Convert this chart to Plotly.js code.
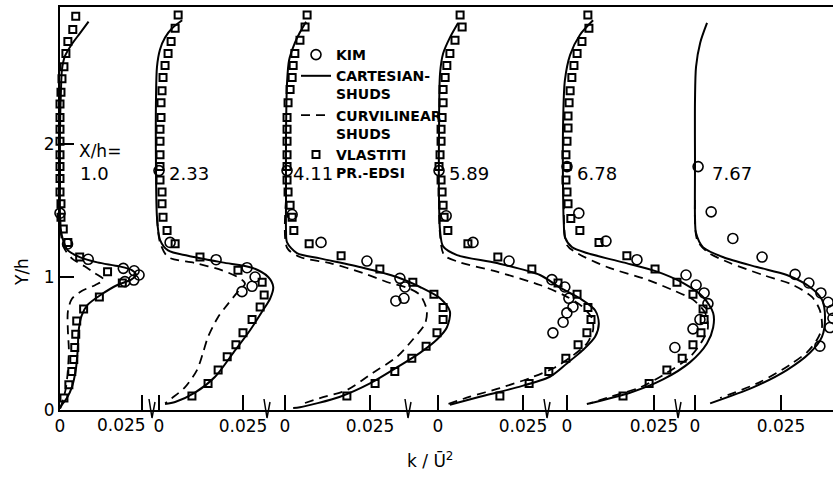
<!DOCTYPE html>
<html><head><meta charset="utf-8">
<script src="https://cdn.plot.ly/plotly-3.0.1.min.js"></script>
<style>html,body{margin:0;padding:0;background:#fff}</style>
</head><body><div id="chart" style="width:833px;height:478px"></div>
<script>
// ---- labels ----
const stations = ['1.0','2.33','4.11','5.89','6.78','7.67'];
const xTickVals = [0, 0.025];
const xTickText = ['0', '0.025'];
const yTickVals = [0, 1, 2];
const yTickText = ['0', '1', '2'];
const seriesNames = ['KIM', 'CARTESIAN-<br>SHUDS', 'CURVILINEAR<br>SHUDS', 'VLASTITI<br>PR.-EDSI'];

// ---- X/h = 1.0 ----
const p1_sq_y = [2.96,2.86,2.77,2.68,2.58,2.49,2.39,2.30,2.20,2.11,2.02,1.92,1.83,1.74,1.64,1.55,1.45,1.36,1.26,1.15,1.04,0.955,0.85,0.76,0.67,0.57,0.47,0.38,0.29,0.19,0.09];
const p1_sq_k = [0.0048,0.0039,0.0024,0.0018,0.0012,0.0006,0.0003,0,0,0,0,0,0,0,0,0.0003,0.0003,0.001,0.0024,0.006,0.0145,0.019,0.012,0.0072,0.0051,0.0048,0.0045,0.0042,0.0036,0.0027,0.0012];
const p1_kim_y = [1.48,1.248,1.133,1.065,1.047,1.015,0.977,0.965];
const p1_kim_k = [0,0.0023,0.0086,0.0193,0.0226,0.0241,0.0225,0.0198];
const p1_cart_y = [2.92,2.83,2.75,2.66,2.56,2.41,2.11,1.73,1.47,1.35,1.28,1.20,1.15,1.11,1.08,1.05,1.015,0.98,0.94,0.87,0.79,0.71,0.60,0.45,0.30,0.17,0.09,0.04,0.01];
const p1_cart_k = [0.0087,0.0060,0.0036,0.0015,0.0006,0.0003,0,0,0,0.0003,0.0009,0.0024,0.0060,0.0114,0.0181,0.0220,0.0232,0.0217,0.0175,0.0127,0.0084,0.0066,0.0057,0.0054,0.0048,0.0036,0.0021,0.0006,0];
const p1_curv_y = [1.47,1.32,1.22,1.14,1.08,1.03,0.98,0.94,0.895,0.835,0.74,0.60,0.45,0.30,0.165,0.05,0.015];
const p1_curv_k = [0,0.0003,0.0012,0.0036,0.0075,0.0105,0.0133,0.0108,0.0066,0.0036,0.0024,0.0024,0.0027,0.0024,0.0018,0.0006,0];

// ---- X/h = 2.33 ----
const p2_sq_y = [2.97,2.87,2.77,2.68,2.59,2.50,2.40,2.31,2.20,2.11,2.02,1.92,1.83,1.73,1.64,1.55,1.45,1.35,1.25,1.15,1.05,0.96,0.865,0.775,0.68,0.58,0.49,0.40,0.30,0.20,0.105];
const p2_sq_k = [0.0057,0.0048,0.0036,0.0027,0.0018,0.0012,0.0009,0.0006,0.0006,0.0003,0.0003,0.0003,0.0003,0.0003,0.0009,0.0009,0.0012,0.0024,0.0048,0.0122,0.0235,0.0307,0.0313,0.0301,0.0277,0.0250,0.0229,0.0203,0.0176,0.0146,0.0098];
const p2_kim_y = [1.80,1.26,1.13,1.07,1.00,0.93,0.89];
const p2_kim_k = [0,0.0033,0.0170,0.0262,0.0286,0.0277,0.0247];
const p2_cart_y = [2.93,2.87,2.80,2.71,2.58,2.33,1.83,1.45,1.28,1.20,1.16,1.11,1.07,1.00,0.925,0.84,0.74,0.60,0.43,0.25,0.13,0.06,0.045];
const p2_cart_k = [0.0069,0.0039,0.0018,0.0003,-0.0006,-0.0009,-0.0009,-0.0006,0.0003,0.0027,0.0086,0.0188,0.0277,0.0325,0.034,0.0331,0.0307,0.0271,0.0221,0.0167,0.0107,0.0048,0.0018];
const p2_curv_y = [1.45,1.26,1.15,1.105,1.05,0.99,0.95,0.89,0.80,0.70,0.55,0.43,0.30,0.17,0.09,0.05];
const p2_curv_k = [-0.0006,0.0003,0.0027,0.0107,0.0188,0.0241,0.0256,0.0235,0.0206,0.0176,0.0146,0.0131,0.0113,0.0077,0.0039,0.0018];

// ---- X/h = 4.11 ----
const p3_sq_y = [2.97,2.88,2.78,2.68,2.59,2.50,2.41,2.31,2.20,2.11,2.02,1.92,1.83,1.73,1.64,1.54,1.45,1.35,1.25,1.16,1.06,0.96,0.87,0.77,0.68,0.58,0.48,0.39,0.29,0.20,0.105];
const p3_sq_k = [0.0065,0.0059,0.0044,0.0029,0.0024,0.0021,0.0015,0.0009,0.0006,0.0006,0.0006,0.0006,0.0006,0.0006,0.0009,0.0015,0.0021,0.0026,0.0071,0.0165,0.0279,0.0376,0.0438,0.0465,0.0465,0.0447,0.0415,0.0373,0.0323,0.0265,0.0182];
const p3_kim_y = [1.80,1.47,1.26,1.12,0.99,0.925,0.84,0.82];
const p3_kim_k = [0.0006,0.0021,0.0106,0.0241,0.0338,0.0353,0.035,0.0326];
const p3_cart_y = [2.92,2.84,2.76,2.63,2.46,2.08,1.58,1.35,1.26,1.18,1.14,1.07,1.00,0.925,0.84,0.74,0.62,0.53,0.43,0.32,0.20,0.10,0.02,0.015];
const p3_cart_k = [0.0062,0.0044,0.0029,0.0012,0.0006,0.0003,0.0003,0.0003,0.0006,0.0035,0.0103,0.0229,0.0329,0.0397,0.0456,0.0485,0.0476,0.0447,0.0397,0.0329,0.025,0.0162,0.0044,0.0024];
const p3_curv_y = [1.58,1.22,1.15,1.105,1.03,0.955,0.92,0.865,0.75,0.65,0.53,0.40,0.28,0.15,0.09,0.04];
const p3_curv_k = [0.0003,0.0006,0.0044,0.0132,0.0229,0.0309,0.0359,0.0397,0.0417,0.0412,0.0376,0.0329,0.0259,0.0182,0.0103,0.0044];

// ---- X/h = 5.89 ----
const p4_sq_y = [2.97,2.88,2.78,2.68,2.59,2.50,2.41,2.31,2.20,2.11,2.02,1.92,1.83,1.73,1.64,1.54,1.45,1.35,1.25,1.15,1.06,0.955,0.87,0.77,0.68,0.58,0.49,0.39,0.29,0.20,0.105];
const p4_sq_k = [0.0065,0.0071,0.0050,0.0035,0.0026,0.0021,0.0015,0.0015,0.0012,0.0009,0.0009,0.0006,0.0003,0.0009,0.0012,0.0015,0.0018,0.0029,0.0088,0.0176,0.0276,0.0353,0.0409,0.0441,0.0450,0.0438,0.0412,0.0376,0.0326,0.0268,0.0182];
const p4_kim_y = [1.80,1.46,1.26,1.12,0.98,0.925,0.84,0.775,0.73,0.66,0.58];
const p4_kim_k = [0.0003,0.0024,0.0103,0.0209,0.0335,0.0373,0.0385,0.0397,0.0379,0.0368,0.0338];
const p4_cart_y = [2.91,2.80,2.68,2.53,2.08,1.58,1.35,1.23,1.165,1.105,1.015,0.92,0.84,0.75,0.65,0.55,0.45,0.35,0.25,0.17,0.10,0.04];
const p4_cart_k = [0.0059,0.0035,0.0015,0.0006,0.0003,0.0003,0.0006,0.0015,0.0056,0.0173,0.030,0.0359,0.0417,0.0462,0.0473,0.0462,0.0426,0.0379,0.0329,0.0232,0.0123,0.0035];
const p4_curv_y = [1.58,1.32,1.165,1.11,1.04,0.94,0.86,0.78,0.69,0.60,0.50,0.41,0.32,0.24,0.165,0.10,0.045];
const p4_curv_k = [0.0003,0.0006,0.0018,0.0065,0.0173,0.030,0.0373,0.0423,0.0453,0.0456,0.0438,0.0397,0.0344,0.0270,0.0182,0.0094,0.0029];

// ---- X/h = 6.78 ----
const p5_sq_y = [2.97,2.87,2.77,2.68,2.59,2.50,2.40,2.31,2.21,2.12,2.02,1.92,1.83,1.73,1.64,1.55,1.44,1.35,1.26,1.16,1.06,0.96,0.87,0.76,0.68,0.58,0.49,0.39,0.30,0.20,0.105];
const p5_sq_k = [0.0060,0.0063,0.0043,0.0029,0.0020,0.0014,0.0009,0.0006,0.0003,0.0003,0,-0.0003,0,-0.0003,0,0.0003,0.0011,0.0037,0.0092,0.0172,0.0253,0.0316,0.0362,0.0391,0.0394,0.0385,0.0362,0.0331,0.0287,0.0236,0.0161];
const p5_kim_y = [1.83,1.48,1.27,1.13,1.015,0.94,0.88,0.80,0.68,0.61,0.47];
const p5_kim_k = [0,0.0034,0.0112,0.0201,0.0342,0.0371,0.0394,0.0405,0.0382,0.0362,0.031];
const p5_cart_y = [2.93,2.82,2.67,2.48,2.18,1.58,1.39,1.30,1.225,1.18,1.11,1.04,0.955,0.85,0.73,0.62,0.50,0.36,0.23,0.13,0.045];
const p5_cart_k = [0.0075,0.0037,0.0009,-0.0006,-0.0011,-0.0011,-0.0009,-0.0006,0.0014,0.0057,0.0161,0.0259,0.0333,0.0391,0.0420,0.0420,0.0402,0.0354,0.0276,0.0181,0.0057];
const p5_curv_y = [1.58,1.24,1.18,1.075,0.98,0.90,0.83,0.73,0.62,0.53,0.40,0.28,0.17,0.10,0.05];
const p5_curv_k = [-0.0009,0,0.0029,0.0115,0.0230,0.0305,0.0362,0.0397,0.0405,0.0391,0.0354,0.0287,0.021,0.0124,0.0066];

// ---- X/h = 7.67 ----
const p6_sq_y = [];
const p6_sq_k = [];
const p6_kim_y = [1.83,1.49,1.29,1.15,1.02,0.955,0.88,0.81,0.75,0.69,0.62,0.48];
const p6_kim_k = [0.0009,0.0047,0.011,0.0195,0.0291,0.0331,0.0366,0.0387,0.0398,0.0401,0.0392,0.0363];
const p6_cart_y = [2.91,2.76,2.58,2.33,1.83,1.45,1.33,1.225,1.15,1.075,1.015,0.925,0.83,0.70,0.55,0.43,0.30,0.17,0.05];
const p6_cart_k = [0.0035,0.0015,0.0003,0,0,0,0.0003,0.0023,0.0081,0.018,0.0267,0.0334,0.0369,0.0378,0.0369,0.0334,0.0267,0.0169,0.0044];
const p6_curv_y = [1.58,1.28,1.19,1.105,1.015,0.94,0.85,0.75,0.62,0.53,0.44,0.34,0.21,0.09];
const p6_curv_k = [0,0.0006,0.0035,0.0102,0.0198,0.0285,0.034,0.0363,0.0369,0.0355,0.0328,0.0276,0.0189,0.0073];

// ---- assemble ----
const panels = [
  {sq:[p1_sq_k,p1_sq_y], kim:[p1_kim_k,p1_kim_y], cart:[p1_cart_k,p1_cart_y], curv:[p1_curv_k,p1_curv_y]},
  {sq:[p2_sq_k,p2_sq_y], kim:[p2_kim_k,p2_kim_y], cart:[p2_cart_k,p2_cart_y], curv:[p2_curv_k,p2_curv_y]},
  {sq:[p3_sq_k,p3_sq_y], kim:[p3_kim_k,p3_kim_y], cart:[p3_cart_k,p3_cart_y], curv:[p3_curv_k,p3_curv_y]},
  {sq:[p4_sq_k,p4_sq_y], kim:[p4_kim_k,p4_kim_y], cart:[p4_cart_k,p4_cart_y], curv:[p4_curv_k,p4_curv_y]},
  {sq:[p5_sq_k,p5_sq_y], kim:[p5_kim_k,p5_kim_y], cart:[p5_cart_k,p5_cart_y], curv:[p5_curv_k,p5_curv_y]},
  {sq:[p6_sq_k,p6_sq_y], kim:[p6_kim_k,p6_kim_y], cart:[p6_cart_k,p6_cart_y], curv:[p6_curv_k,p6_curv_y]}
];

// layout geometry (pixels): plot area x 60..833, y 7..410
const W = 833, H = 478, L = 60, T = 7, B = 410;
const PW = W - L, PH = B - T;
const breaksPx = [60, 152, 267, 408, 547, 678, 833];
const zeroPx = [60, 159, 285, 438, 567, 695];
const tickPx = [142, 243, 370, 523, 654, 781];
const labelK = [0.0055, 0.0024, 0.0018, 0.0026, 0.0023, 0.0044];
const yTop = (B - T) / 133;
const fx = px => (px - L) / PW;
const fy = py => (B - py) / PH;

const FONT = 'DejaVu Sans, Liberation Sans, sans-serif';
const traces = [];
const layout = {
  width: W, height: H,
  margin: {l: L, r: 0, t: T, b: H - B, pad: 0},
  paper_bgcolor: '#fff', plot_bgcolor: 'rgba(0,0,0,0)',
  font: {family: FONT, color: '#000', size: 17},
  showlegend: true,
  legend: {x: fx(296), y: fy(39), xanchor: 'left', yanchor: 'top', bgcolor: 'rgba(0,0,0,0)',
           font: {family: FONT, size: 14, color: '#000', weight: 'bold'}, itemwidth: 30, valign: 'top',
           tracegroupgap: 0, traceorder: 'normal'},
  yaxis: {range: [0, yTop], domain: [0, 1], anchor: 'x', showline: true, linewidth: 2, linecolor: '#000',
          ticks: 'inside', ticklen: 14, tickwidth: 1.5, tickcolor: '#000', tickvals: yTickVals, ticktext: yTickText,
          showgrid: false, zeroline: false, tickfont: {size: 17, family: FONT}, fixedrange: true},
  annotations: [], shapes: []
};

panels.forEach((p, i) => {
  const ax = i === 0 ? 'x' : 'x' + (i + 1);
  const key = i === 0 ? 'xaxis' : 'xaxis' + (i + 1);
  const s = 0.025 / (tickPx[i] - zeroPx[i]);
  // each panel's axis starts at its break and runs to the right edge, so curves may spill past the next break
  layout[key] = {
    domain: [fx(breaksPx[i]), 1],
    range: [(breaksPx[i] - zeroPx[i]) * s, (W - zeroPx[i]) * s],
    anchor: 'y', showline: true, linewidth: 2, linecolor: '#000', mirror: true,
    ticks: 'inside', ticklen: 15, tickwidth: 1.5, tickcolor: '#000',
    tickvals: xTickVals,
    // first panel: its 0.025 label is set a little left of the tick (below, as an annotation)
    ticktext: i === 0 ? [xTickText[0], ''] : xTickText,
    showgrid: false, zeroline: false,
    tickfont: {size: 17, family: FONT}, fixedrange: true
  };
  const first = i === 0;
  traces.push({x: p.curv[0], y: p.curv[1], xaxis: ax, yaxis: 'y', mode: 'lines', name: seriesNames[2],
    legendgroup: 'curv', showlegend: first, legendrank: 3, cliponaxis: false,
    line: {color: '#000', width: 1.8, dash: '9px,6px', shape: 'spline', smoothing: 0.8}});
  traces.push({x: p.cart[0], y: p.cart[1], xaxis: ax, yaxis: 'y', mode: 'lines', name: seriesNames[1],
    legendgroup: 'cart', showlegend: first, legendrank: 2, cliponaxis: false,
    line: {color: '#000', width: 2, shape: 'spline', smoothing: 0.8}});
  if (p.sq[0].length) traces.push({x: p.sq[0], y: p.sq[1], xaxis: ax, yaxis: 'y', mode: 'markers', name: seriesNames[3],
    legendgroup: 'sq', showlegend: first, legendrank: 4, cliponaxis: false,
    marker: {symbol: 'square-open', size: 7, color: '#000', line: {width: 2, color: '#000'}}});
  traces.push({x: p.kim[0], y: p.kim[1], xaxis: ax, yaxis: 'y', mode: 'markers', name: seriesNames[0],
    legendgroup: 'kim', showlegend: first, legendrank: 1, cliponaxis: false,
    marker: {symbol: 'circle-open', size: 10, color: '#000', line: {width: 1.6, color: '#000'}}});
  layout.annotations.push({xref: ax, yref: 'y', x: labelK[i], y: 1.775, xanchor: 'left', yanchor: 'middle',
    text: stations[i], showarrow: false, font: {size: 18, family: FONT}});
});

layout.annotations.push({xref: 'x', yref: 'paper', x: xTickVals[1], y: fy(425), xanchor: 'right', yanchor: 'middle',
  xshift: 6, text: xTickText[1], showarrow: false, font: {size: 17, family: FONT}});
layout.annotations.push({xref: 'x', yref: 'y', x: 0.0052, y: 1.95, xanchor: 'left', yanchor: 'middle',
  text: 'X/h=', showarrow: false, font: {size: 17, family: FONT}});
layout.annotations.push({xref: 'paper', yref: 'paper', x: fx(430), y: fy(460), xanchor: 'center', yanchor: 'middle',
  text: 'k / Ū<sup>2</sup>', showarrow: false, font: {size: 17, family: FONT}});
layout.annotations.push({xref: 'paper', yref: 'paper', x: fx(22), y: fy(272), xanchor: 'center', yanchor: 'middle',
  text: 'Y/h', textangle: -90, showarrow: false, font: {size: 17, family: FONT}});

// axis break marks
breaksPx.slice(1, -1).forEach(bx => {
  layout.shapes.push({type: 'path', xref: 'paper', yref: 'paper',
    path: `M ${fx(bx - 3)},${fy(399)} L ${fx(bx)},${fy(418)} L ${fx(bx + 3)},${fy(402)}`,
    line: {color: '#000', width: 1.5}});
});

Plotly.newPlot('chart', traces, layout, {staticPlot: true, displayModeBar: false});
</script>
</body></html>
